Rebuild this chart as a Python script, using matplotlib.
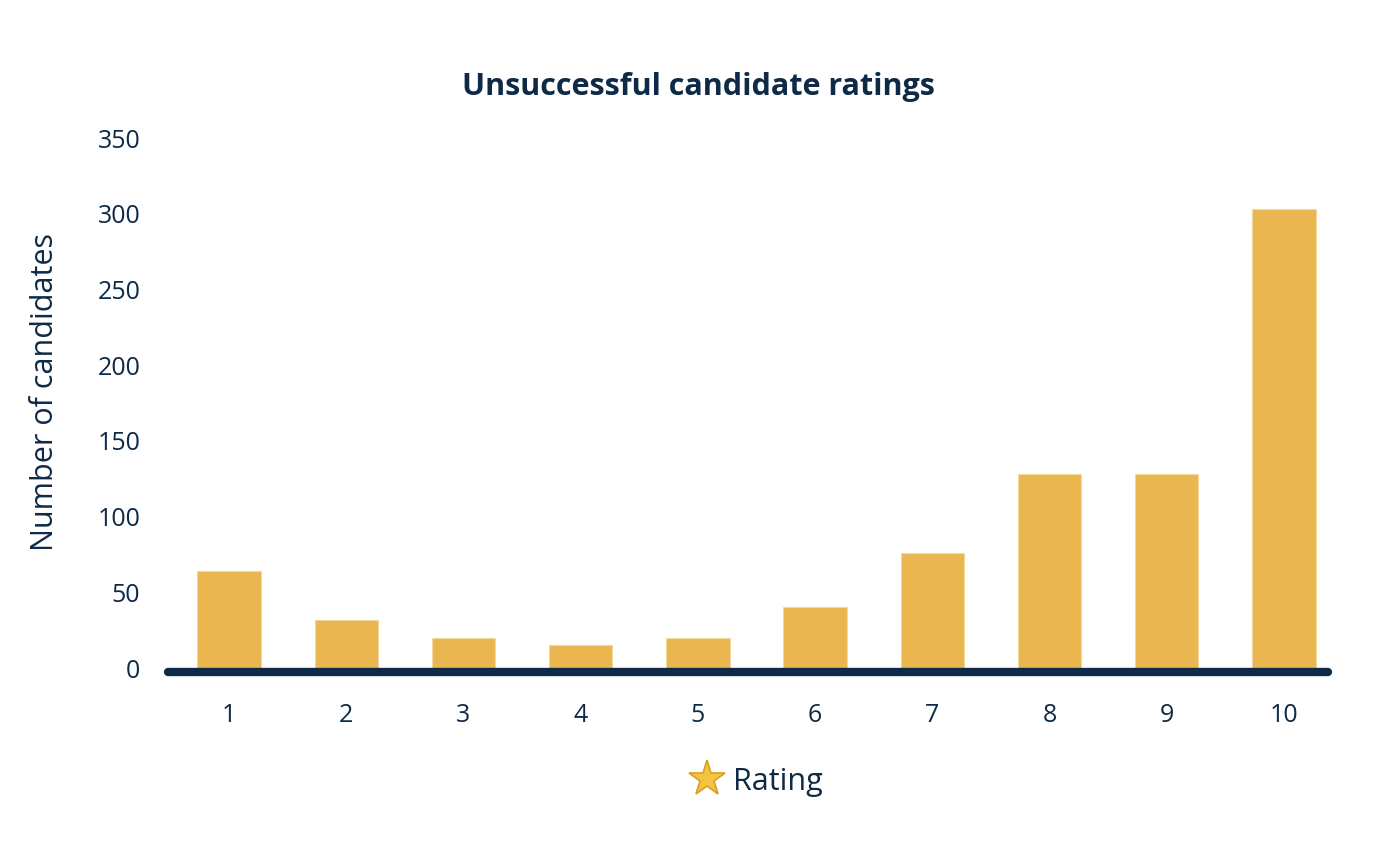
import matplotlib
matplotlib.use("Agg")
import matplotlib.pyplot as plt
from matplotlib.lines import Line2D

ratings = ["1", "2", "3", "4", "5", "6", "7", "8", "9", "10"]
candidates = [64, 32, 20, 15, 20, 40, 76, 128, 128, 303]
y_ticks = [0, 50, 100, 150, 200, 250, 300, 350]

DARK = "#0E2A47"
GOLD = "#E9B650"
FONT = ["Open Sans", "DejaVu Sans"]
plt.rcParams["font.family"] = FONT

fig = plt.figure(figsize=(13.94, 8.44), dpi=100)
ax = fig.add_axes([168 / 1394, (844 - 672) / 844, (1328 - 168) / 1394, 534 / 844])

x = list(range(1, len(ratings) + 1))
ax.bar(x, candidates, width=0.54, color=GOLD, edgecolor="#F3D9A0", linewidth=0.8, zorder=2)

ax.set_xlim(0.48, 10.375)
ax.set_ylim(-2.6, 350)
ax.set_yticks(y_ticks)
ax.set_yticklabels([str(v) for v in y_ticks])
ax.set_xticks(x)
ax.set_xticklabels(ratings)

for s in ax.spines.values():
    s.set_visible(False)
ax.plot([0, 1], [0, 0], transform=ax.transAxes, color=DARK, linewidth=6,
        solid_capstyle="round", clip_on=False, zorder=3)

ax.tick_params(axis="both", length=0, labelsize=18, colors=DARK)
ax.tick_params(axis="x", pad=22)
ax.tick_params(axis="y", pad=20)

ax.set_ylabel("Number of candidates", fontsize=22, color=DARK, va="center")
ax.yaxis.set_label_coords(-0.106, 0.524)
fig.text(698 / 1394, 1 - 87 / 844, "Unsuccessful candidate ratings", fontsize=22,
         fontweight="bold", color=DARK, ha="center", va="center")

fig.text(733 / 1394, 1 - 782 / 844, "Rating", fontsize=22, color=DARK,
         ha="left", va="center")
# star emoji (no installed font has the glyph) drawn as a star shape
fig.add_artist(Line2D([707 / 1394], [1 - 779 / 844], transform=fig.transFigure,
                      marker="*", markersize=27, markerfacecolor="#F5C342",
                      markeredgecolor="#D9A020", markeredgewidth=1.2, linestyle="none"))

fig.savefig("out.png", dpi=100)
